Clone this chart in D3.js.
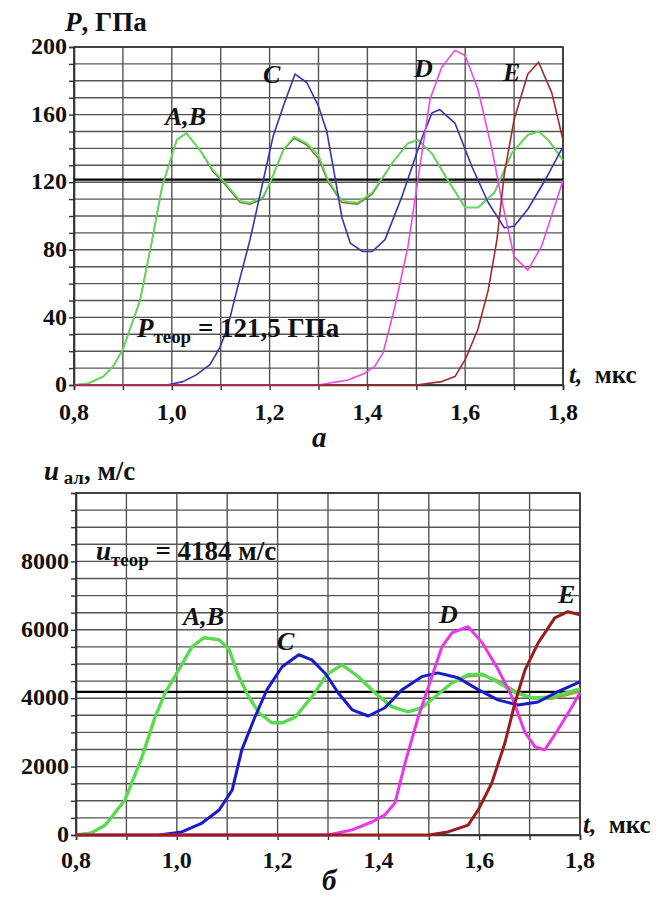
<!DOCTYPE html>
<html>
<head>
<meta charset="utf-8">
<script src="https://cdn.jsdelivr.net/npm/d3@7"></script>
<style>
body { margin: 0; background: #fff; }
</style>
</head>
<body>
<div id="plot"></div>
<script>
// t, мкс -> P, ГПа (верхний график)
var pA = [[0.80,0],[0.83,1],[0.86,5],[0.88,11],[0.90,21],[0.935,50],[0.96,86],[0.98,117],[1.01,145],[1.03,149],[1.06,138],[1.085,127],[1.105,121],[1.14,109],[1.16,108],[1.185,111],[1.20,119],[1.228,139],[1.25,147],[1.276,143],[1.30,136],[1.32,121],[1.348,109],[1.38,108],[1.41,114],[1.45,131],[1.483,143],[1.503,145],[1.532,137],[1.565,121],[1.60,105],[1.626,105],[1.66,114],[1.695,137],[1.728,148],[1.75,150],[1.77,145],[1.80,133]];
var pB = [[0.80,0],[0.83,1],[0.86,5],[0.88,11],[0.90,21],[0.935,50],[0.96,86],[0.98,117],[1.01,145],[1.03,149],[1.06,138],[1.085,126],[1.105,120],[1.14,108],[1.16,107],[1.185,110],[1.20,119],[1.228,139],[1.25,146],[1.276,142],[1.30,134],[1.32,120],[1.348,108],[1.38,107],[1.41,113],[1.45,131],[1.483,143],[1.503,145],[1.532,137],[1.565,121],[1.60,105],[1.626,105],[1.66,114],[1.695,137],[1.728,148],[1.75,150],[1.77,145],[1.80,133]];
var pC = [[0.99,0],[1.023,2],[1.05,6],[1.078,12],[1.098,22],[1.113,33],[1.133,56],[1.16,86],[1.187,121],[1.207,147],[1.228,165],[1.252,184],[1.276,179],[1.30,165],[1.317,150],[1.333,124],[1.348,99],[1.365,84],[1.39,79],[1.41,79],[1.436,86],[1.47,111],[1.51,145],[1.532,161],[1.548,163],[1.579,155],[1.614,129],[1.647,108],[1.68,93],[1.70,94],[1.728,104],[1.763,121],[1.80,141]];
var pD = [[0.80,0],[1.30,0],[1.36,3],[1.395,7],[1.415,11],[1.432,19],[1.456,46],[1.483,82],[1.503,121],[1.528,169],[1.552,188],[1.579,198],[1.60,195],[1.626,175],[1.655,139],[1.675,109],[1.70,76],[1.728,68],[1.756,82],[1.80,121]];
var pE = [[0.80,0],[1.50,0],[1.552,2],[1.579,5],[1.60,15],[1.626,33],[1.647,56],[1.665,86],[1.68,125],[1.70,157],[1.728,184],[1.75,191],[1.777,173],[1.80,145]];

// t, мкс -> u, м/с (нижний график)
var uA = [[0.80,0],[0.83,60],[0.858,290],[0.897,1020],[0.931,2280],[0.957,3450],[0.977,4160],[1.004,4830],[1.03,5500],[1.054,5770],[1.084,5710],[1.104,5420],[1.123,4630],[1.143,4040],[1.163,3570],[1.189,3280],[1.209,3280],[1.235,3450],[1.268,4040],[1.298,4690],[1.328,4980],[1.36,4630],[1.393,4160],[1.427,3750],[1.459,3600],[1.486,3720],[1.512,4040],[1.546,4450],[1.578,4690],[1.606,4710],[1.638,4450],[1.671,4160],[1.705,4010],[1.744,4040],[1.80,4280]];
var uB = [[0.80,0],[0.83,60],[0.858,290],[0.897,1020],[0.931,2280],[0.957,3450],[0.977,4160],[1.004,4830],[1.03,5500],[1.054,5770],[1.084,5710],[1.104,5420],[1.123,4630],[1.143,4040],[1.163,3570],[1.189,3280],[1.209,3280],[1.235,3450],[1.268,4040],[1.298,4690],[1.328,4980],[1.36,4630],[1.393,4160],[1.427,3750],[1.459,3600],[1.486,3720],[1.512,4040],[1.546,4450],[1.578,4650],[1.606,4680],[1.638,4500],[1.671,4200],[1.705,4000],[1.744,3990],[1.80,4200]];
var uC = [[0.965,0],[1.01,90],[1.05,350],[1.084,730],[1.11,1320],[1.129,2490],[1.155,3450],[1.179,4250],[1.209,4920],[1.242,5270],[1.268,5120],[1.296,4700],[1.32,4160],[1.348,3660],[1.38,3480],[1.413,3720],[1.447,4250],[1.486,4630],[1.518,4740],[1.558,4600],[1.598,4250],[1.637,3950],[1.677,3800],[1.717,3890],[1.756,4190],[1.80,4480]];
var uD = [[0.80,0],[1.30,0],[1.348,150],[1.387,380],[1.413,590],[1.433,940],[1.453,2110],[1.479,3450],[1.506,4630],[1.526,5500],[1.546,5910],[1.578,6090],[1.606,5620],[1.638,4830],[1.665,4040],[1.691,2990],[1.711,2580],[1.73,2490],[1.756,3070],[1.784,3750],[1.80,4160]];
var uE = [[0.80,0],[1.50,0],[1.538,90],[1.578,290],[1.598,730],[1.625,1520],[1.651,2690],[1.671,3870],[1.691,4830],[1.717,5620],[1.75,6350],[1.776,6530],[1.80,6440]];

var xTicks = [0.8, 1.0, 1.2, 1.4, 1.6, 1.8];
var pTicks = [0, 40, 80, 120, 160, 200];
var uTicks = [0, 2000, 4000, 6000, 8000];
var pTheor = 121.5;
var uTheor = 4184;

var FONT = "Liberation Serif, Tinos, Noto Serif, DejaVu Serif, FreeSerif, Times New Roman, Times, serif";

var svg = d3.select('#plot')
    .append('svg')
    .attr('width', 662)
    .attr('height', 902)
    .style('font-family', FONT)
    .style('font-weight', 'bold');

var fmt = function (d) { return d3.format('.1f')(d).replace('.', ','); };

function panel(opt) {
    var x = d3.scaleLinear().domain([0.8, 1.8]).range([opt.left, opt.right]);
    var y = d3.scaleLinear().domain([0, opt.ymax]).range([opt.bottom, opt.top]);
    var g = svg.append('g');

    // сетка
    g.selectAll('.hg').data(d3.range(0, opt.ymax + 1e-9, opt.ystep)).enter()
        .append('line')
        .attr('x1', opt.left).attr('x2', opt.right)
        .attr('y1', function (d) { return y(d); }).attr('y2', function (d) { return y(d); })
        .attr('stroke', '#555').attr('stroke-width', 1.4);
    g.selectAll('.vg').data(d3.range(0.8, 1.8 + 1e-9, 0.1)).enter()
        .append('line')
        .attr('y1', opt.top).attr('y2', opt.bottom)
        .attr('x1', function (d) { return x(d); }).attr('x2', function (d) { return x(d); })
        .attr('stroke', '#555').attr('stroke-width', 1.4);

    // оси с мелкими рисками
    var ay = g.append('g').attr('transform', 'translate(' + opt.left + ',0)')
        .call(d3.axisLeft(y).tickValues(d3.range(0, opt.ymax + 1e-9, opt.ystep)).tickSize(5).tickFormat(''));
    var ax = g.append('g').attr('transform', 'translate(0,' + opt.bottom + ')')
        .call(d3.axisBottom(x).tickValues(d3.range(0.8, 1.8 + 1e-9, 0.1)).tickSize(5).tickFormat(''));
    [ay, ax].forEach(function (a) {
        a.select('.domain').attr('stroke', '#333').attr('stroke-width', 1.6);
        a.selectAll('line').attr('stroke', '#333').attr('stroke-width', 1.4);
    });
    g.append('rect')
        .attr('x', opt.left).attr('y', opt.top)
        .attr('width', opt.right - opt.left).attr('height', opt.bottom - opt.top)
        .attr('fill', 'none').attr('stroke', '#333').attr('stroke-width', 1.6);

    // подписи делений
    g.selectAll('.yl').data(opt.yticks).enter()
        .append('text')
        .attr('x', opt.left - 7).attr('y', function (d) { return y(d); })
        .attr('dy', '0.3em').attr('text-anchor', 'end')
        .style('font-family', FONT).style('font-weight', 'bold')
        .style('font-size', '24px').attr('fill', '#111')
        .text(function (d) { return d; });
    g.selectAll('.xl').data(xTicks).enter()
        .append('text')
        .attr('x', function (d) { return x(d); }).attr('y', opt.xlabelY)
        .attr('text-anchor', 'middle')
        .style('font-family', FONT).style('font-weight', 'bold')
        .style('font-size', '24px').attr('fill', '#111')
        .text(fmt);

    // теоретический уровень
    g.append('line')
        .attr('x1', opt.left).attr('x2', opt.right)
        .attr('y1', y(opt.theor)).attr('y2', y(opt.theor))
        .attr('stroke', '#000').attr('stroke-width', 2.4);

    var line = d3.line()
        .x(function (d) { return x(d[0]); })
        .y(function (d) { return y(d[1]); });

    opt.series.forEach(function (s) {
        g.append('path')
            .attr('d', line(s.data))
            .attr('fill', 'none')
            .attr('stroke', s.color)
            .attr('stroke-width', opt.lw)
            .attr('stroke-linejoin', 'round');
    });
    return { x: x, y: y, g: g };
}

var topPanel = panel({
    left: 74, right: 563, top: 47, bottom: 385, ymax: 200, ystep: 10,
    yticks: pTicks, xlabelY: 420, theor: pTheor, lw: 1.6,
    series: [
        { data: pB, color: '#7d7a2e' },
        { data: pA, color: '#5ee05e' },
        { data: pC, color: '#3535b0' },
        { data: pD, color: '#ea48ea' },
        { data: pE, color: '#a02a2a' }
    ]
});

var botPanel = panel({
    left: 76, right: 580, top: 493, bottom: 835, ymax: 10000, ystep: 500,
    yticks: uTicks, xlabelY: 868, theor: uTheor, lw: 3,
    series: [
        { data: uB, color: '#a8a040' },
        { data: uA, color: '#4ee04e' },
        { data: uC, color: '#1a1ac8' },
        { data: uD, color: '#ea36ea' },
        { data: uE, color: '#9a1c1c' }
    ]
});

function label(x, y, parts, size) {
    var t = svg.append('text').attr('x', x).attr('y', y)
        .style('font-family', FONT).style('font-weight', 'bold').attr('fill', '#111')
        .style('font-size', size + 'px');
    parts.forEach(function (p) {
        var ts = t.append('tspan').text(p.s);
        if (p.it) ts.style('font-style', 'italic');
        if (p.sub) ts.style('font-size', (size * 0.7) + 'px').attr('dy', p.sub);
        if (p.up) ts.attr('dy', p.up);
    });
    return t;
}

// верхний график
label(65, 31, [{ s: 'P', it: true }, { s: ', ГПа' }], 27);
label(569, 383, [{ s: 't,', it: true }, { s: '\u00a0\u00a0мкс' }], 25);
label(312, 447, [{ s: 'а', it: true }], 29);
label(165, 125, [{ s: 'A,B', it: true }], 26);
label(263, 83, [{ s: 'C', it: true }], 26);
label(414, 77, [{ s: 'D', it: true }], 26);
label(503, 81, [{ s: 'E', it: true }], 26);
label(137, 337, [{ s: 'P', it: true }, { s: 'теор', sub: 6 }, { s: ' = 121,5 ГПа', up: -6 }], 27);

// нижний график
label(44, 480, [{ s: 'u', it: true }, { s: '\u00a0ал', sub: 4 }, { s: ', м/с', up: -4 }], 27);
label(583, 833, [{ s: 't,', it: true }, { s: '\u00a0\u00a0мкс' }], 25);
label(322, 890, [{ s: 'б', it: true }], 29);
label(183, 625, [{ s: 'A,B', it: true }], 26);
label(277, 650, [{ s: 'C', it: true }], 26);
label(439, 623, [{ s: 'D', it: true }], 26);
label(558, 603, [{ s: 'E', it: true }], 26);
label(96, 560, [{ s: 'u', it: true }, { s: 'теор', sub: 6 }, { s: ' = 4184 м/с', up: -6 }], 27);
</script>
</body>
</html>
